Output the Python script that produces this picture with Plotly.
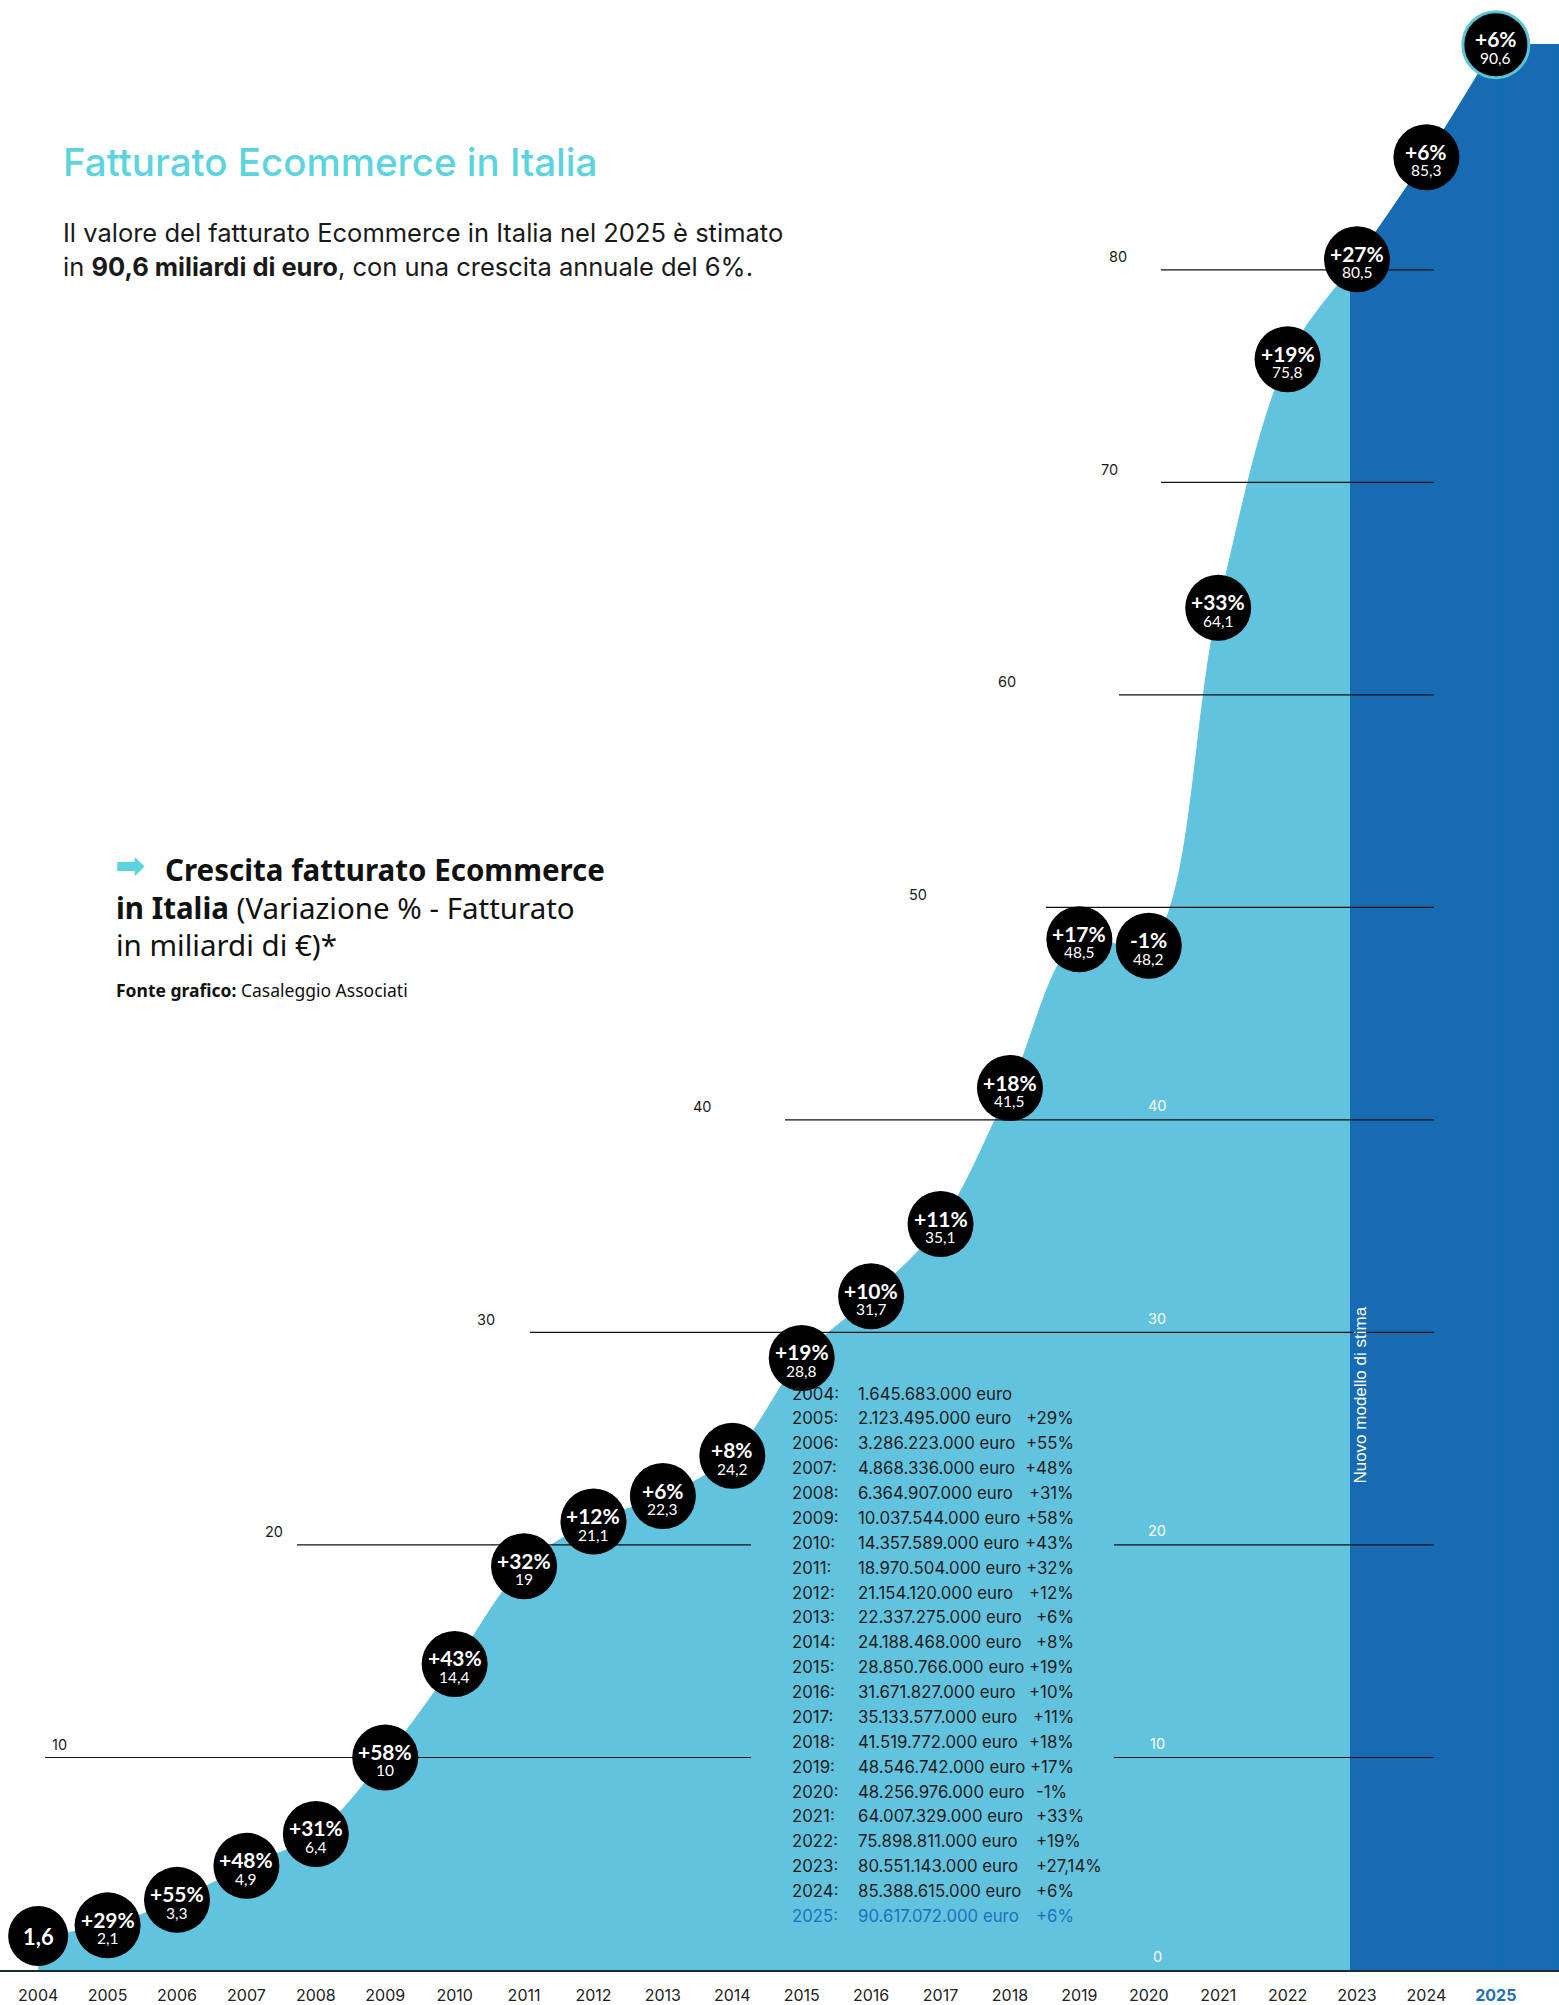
import plotly.graph_objects as go

# ---------------- data ----------------
years = list(range(2004, 2026))
value_bn = [1.6, 2.1, 3.3, 4.9, 6.4, 10, 14.4, 19, 21.1, 22.3, 24.2, 28.8,
            31.7, 35.1, 41.5, 48.5, 48.2, 64.1, 75.8, 80.5, 85.3, 90.6]
growth_pct = ["", "+29%", "+55%", "+48%", "+31%", "+58%", "+43%", "+32%", "+12%",
              "+6%", "+8%", "+19%", "+10%", "+11%", "+18%", "+17%", "-1%", "+33%",
              "+19%", "+27%", "+6%", "+6%"]
revenue_eur = [1645683000, 2123495000, 3286223000, 4868336000, 6364907000,
               10037544000, 14357589000, 18970504000, 21154120000, 22337275000,
               24188468000, 28850766000, 31671827000, 35133577000, 41519772000,
               48546742000, 48256976000, 64007329000, 75898811000, 80551143000,
               85388615000, 90617072000]
table_growth = ["", "+29%", "+55%", "+48%", "+31%", "+58%", "+43%", "+32%", "+12%",
                "+6%", "+8%", "+19%", "+10%", "+11%", "+18%", "+17%", "-1%", "+33%",
                "+19%", "+27,14%", "+6%", "+6%"]
grid_values = [10, 20, 30, 40, 50, 60, 70, 80]
inner_grid_labels = [0, 10, 20, 30, 40]
highlight_year = 2025
model_change_year = 2023

# ---------------- layout constants ----------------
W, H = 1559, 2005
BASE_PX = 1972            # pixel row of the value 0 baseline
Y_MAX = 92.7
X_MIN, X_MAX = 2003.45, 2025.91
SPLIT_X = model_change_year - 0.1
SPLIT_FRAC = (SPLIT_X - X_MIN) / (X_MAX - X_MIN)

LIGHT = "#62C3DE"
DARK = "#166BB3"
CYAN = "#5CD4DF"
RING = "#5BC4D6"
INK = "#1A1A1A"
BLUE_TXT = "#1F6FC0"

# gridline segments (page pixels) and label x positions
GRID_SEGMENTS = {
    10: [(45, 751), (1114, 1434)],
    20: [(297, 751), (1114, 1434)],
    30: [(530, 1434)],
    40: [(785, 1434)],
    50: [(1046, 1434)],
    60: [(1119, 1434)],
    70: [(1161, 1434)],
    80: [(1161, 1434)],
}
GRID_LABEL_X = {10: 59, 20: 274, 30: 486, 40: 702, 50: 918, 60: 1007, 70: 1109, 80: 1118}
INNER_LABEL_X = 1157


def px2year(px):
    return X_MIN + px / W * (X_MAX - X_MIN)


def pxx(px):
    return px / W


def pxy(py):
    return (BASE_PX - py) / BASE_PX


fig = go.Figure()

# light-blue area (clipped left of the model change)
fig.add_trace(go.Scatter(
    x=years, y=value_bn, mode="lines", xaxis="x", yaxis="y",
    line=dict(shape="spline", width=1, color=LIGHT, simplify=False),
    fill="tozeroy", fillcolor=LIGHT, hoverinfo="skip", showlegend=False))
# dark-blue area (new estimation model)
fig.add_trace(go.Scatter(
    x=years, y=value_bn, mode="lines", xaxis="x2", yaxis="y",
    line=dict(shape="spline", width=1, color=DARK, simplify=False),
    fill="tozeroy", fillcolor=DARK, hoverinfo="skip", showlegend=False))

# gridline segments
gx, gy = [], []
for v in grid_values:
    for a, b in GRID_SEGMENTS[v]:
        gx += [px2year(a), px2year(b), None]
        gy += [v, v, None]
fig.add_trace(go.Scatter(
    x=gx, y=gy, mode="lines", xaxis="x3", yaxis="y",
    line=dict(color="#111111", width=1.2), hoverinfo="skip", showlegend=False))

# circles
ring_colors = [RING if y == highlight_year else "#000000" for y in years]
ring_widths = [3 if y == highlight_year else 0 for y in years]
sizes = [60 if g == "" else 66 for g in growth_pct]
fig.add_trace(go.Scatter(
    x=years, y=value_bn, mode="markers", xaxis="x3", yaxis="y",
    marker=dict(size=sizes, color="#000000", opacity=1,
                line=dict(color=ring_colors, width=ring_widths)),
    cliponaxis=False, hoverinfo="skip", showlegend=False))

annotations = []


def fmt_val(v):
    return f"{v:g}".replace(".", ",")


for yr, v, g in zip(years, value_bn, growth_pct):
    if g == "":
        annotations.append(dict(x=yr, y=v, xref="x3", yref="y", text=f"<b>{fmt_val(v)}</b>",
                                xanchor="center", yanchor="middle",
                                showarrow=False, font=dict(family="Lato", size=22, color="white")))
    else:
        annotations.append(dict(x=yr, y=v, xref="x3", yref="y", text=f"<b>{g}</b>", yshift=6,
                                xanchor="center", yanchor="middle",
                                showarrow=False, font=dict(family="Lato", size=21, color="white")))
        annotations.append(dict(x=yr, y=v, xref="x3", yref="y", text=fmt_val(v), yshift=-13,
                                xanchor="center", yanchor="middle",
                                showarrow=False, font=dict(family="Lato", size=15.5, color="white")))

# gridline labels
for v in grid_values:
    annotations.append(dict(x=pxx(GRID_LABEL_X[v]), y=v, xref="paper", yref="y", text=str(v),
                            xanchor="center", yanchor="middle", yshift=13, showarrow=False,
                            font=dict(family="Inter", size=14.5, color=INK)))
for v in inner_grid_labels:
    annotations.append(dict(x=pxx(INNER_LABEL_X), y=v, xref="paper", yref="y", text=str(v),
                            xanchor="center", yanchor="middle", yshift=14, showarrow=False,
                            font=dict(family="Inter", size=14.5, color="white")))

# title & subtitle
annotations.append(dict(x=pxx(61), y=pxy(162), xref="paper", yref="paper", xanchor="left",
                        yanchor="middle", showarrow=False, text="Fatturato Ecommerce in Italia",
                        font=dict(family="Inter", size=38.5, color=CYAN, weight=500)))
annotations.append(dict(x=pxx(61), y=pxy(233), xref="paper", yref="paper", xanchor="left",
                        yanchor="middle", showarrow=False,
                        text="Il valore del fatturato Ecommerce in Italia nel 2025 è stimato",
                        font=dict(family="Inter", size=25.5, color=INK)))
annotations.append(dict(x=pxx(61), y=pxy(267), xref="paper", yref="paper", xanchor="left",
                        yanchor="middle", showarrow=False,
                        text="in <b>90,6 miliardi di euro</b>, con una crescita annuale del 6%.",
                        font=dict(family="Inter", size=25.5, color=INK)))

# chart caption block
annotations.append(dict(x=pxx(113), y=pxy(866), xref="paper", yref="paper", xanchor="left",
                        yanchor="middle", showarrow=False, text="<b>➡</b>",
                        font=dict(family="DejaVu Sans", size=36, color=CYAN)))
annotations.append(dict(x=pxx(163), y=pxy(870), xref="paper", yref="paper", xanchor="left",
                        yanchor="middle", showarrow=False, text="<b>Crescita fatturato Ecommerce</b>",
                        font=dict(family="Noto Sans", size=29.5, color="#111111")))
annotations.append(dict(x=pxx(114), y=pxy(908), xref="paper", yref="paper", xanchor="left",
                        yanchor="middle", showarrow=False,
                        text="<b>in Italia</b> (Variazione % - Fatturato",
                        font=dict(family="Noto Sans", size=29.5, color="#111111")))
annotations.append(dict(x=pxx(114), y=pxy(945), xref="paper", yref="paper", xanchor="left",
                        yanchor="middle", showarrow=False, text="in miliardi di €)*",
                        font=dict(family="Noto Sans", size=29.5, color="#111111")))
annotations.append(dict(x=pxx(114), y=pxy(991), xref="paper", yref="paper", xanchor="left",
                        yanchor="middle", showarrow=False,
                        text="<b>Fonte grafico:</b> Casaleggio Associati",
                        font=dict(family="Noto Sans", size=17.5, color="#111111")))

# vertical label
annotations.append(dict(x=pxx(1361), y=pxy(1397), xref="paper", yref="paper", textangle=-90,
                        xanchor="center", yanchor="middle",
                        showarrow=False, text="Nuovo modello di stima",
                        font=dict(family="Liberation Sans", size=17, color="white")))

# data table
for i, (yr, rev, tg) in enumerate(zip(years, revenue_eur, table_growth)):
    ypx = 1395 + i * 24.9
    col = BLUE_TXT if yr == highlight_year else "#1C1C1C"
    f = dict(family="Inter", size=16.8, color=col)
    annotations.append(dict(x=pxx(790), y=pxy(ypx), xref="paper", yref="paper", xanchor="left",
                            yanchor="middle", showarrow=False, text=f"{yr}:", font=f))
    amount = f"{rev:,}".replace(",", ".") + " euro"
    annotations.append(dict(x=pxx(856), y=pxy(ypx), xref="paper", yref="paper", xanchor="left",
                            yanchor="middle", showarrow=False, text=amount, font=f))
    if tg:
        if yr <= 2019:
            annotations.append(dict(x=pxx(1076), y=pxy(ypx), xref="paper", yref="paper",
                                    xanchor="right", yanchor="middle", showarrow=False,
                                    text=tg, font=f))
        else:
            annotations.append(dict(x=pxx(1034), y=pxy(ypx), xref="paper", yref="paper",
                                    xanchor="left", yanchor="middle", showarrow=False,
                                    text=tg, font=f))

ticktext = [f"<b><span style='color:{BLUE_TXT}'>{y}</span></b>" if y == highlight_year else str(y)
            for y in years]

fig.update_layout(
    width=W, height=H,
    margin=dict(l=0, r=0, t=0, b=H - BASE_PX),
    paper_bgcolor="white", plot_bgcolor="rgba(0,0,0,0)",
    showlegend=False,
    xaxis=dict(domain=[0, SPLIT_FRAC], range=[X_MIN, SPLIT_X], visible=False, anchor="y"),
    xaxis2=dict(domain=[SPLIT_FRAC, 1], range=[SPLIT_X, X_MAX], visible=False, anchor="y"),
    xaxis3=dict(domain=[0, 1], range=[X_MIN, X_MAX], anchor="y",
                tickmode="array", tickvals=years, ticktext=ticktext,
                ticks="outside", ticklen=10, tickcolor="rgba(0,0,0,0)",
                showline=True, linecolor="#1B2A33", linewidth=2,
                showgrid=False, zeroline=False,
                tickfont=dict(family="Inter", size=16, color="#222222")),
    yaxis=dict(domain=[0, 1], range=[0, Y_MAX], visible=False, fixedrange=True),
    shapes=[dict(type="rect", xref="x2", yref="y", x0=years[-1], x1=X_MAX,
                 y0=0, y1=value_bn[-1], fillcolor=DARK, line=dict(width=1.5, color=DARK),
                 layer="below")],
    annotations=annotations,
)

fig.write_html("out.html")
